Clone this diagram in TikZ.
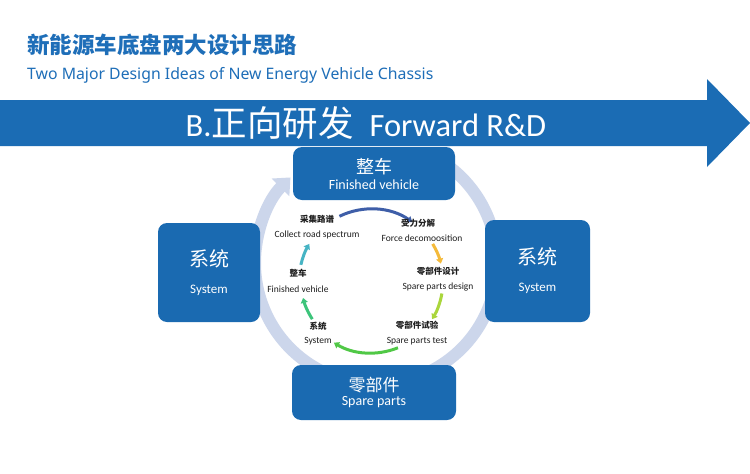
\documentclass[tikz,border=0pt]{standalone}
\usepackage{fontspec}
\setmainfont{Carlito}
\newfontfamily\cjk{Noto Sans CJK SC}
\newfontfamily\subfont{Noto Sans}
\usetikzlibrary{arrows.meta}
\definecolor{mainblue}{RGB}{27,108,180}
\definecolor{boxblue}{RGB}{26,106,177}
\definecolor{titleblue}{RGB}{30,110,184}
\definecolor{ringc}{RGB}{204,214,235}
\definecolor{arcA}{RGB}{62,94,168}
\definecolor{arcB}{RGB}{244,186,58}
\definecolor{arcC}{RGB}{170,214,60}
\definecolor{arcD}{RGB}{80,200,70}
\definecolor{arcE}{RGB}{60,196,122}
\definecolor{arcF}{RGB}{70,180,196}
\definecolor{lbl}{RGB}{30,30,30}
\tikzset{
  bluebox/.style={fill=boxblue, rounded corners=9pt, text=white, align=center, inner sep=0pt},
  ringarrow/.style={draw=ringc, line width=12pt, -{Triangle[width=24pt,length=14pt]}},
  arcline/.style={line width=3pt, -{Triangle[width=7pt,length=5pt]}},
  lblcn/.style={text=lbl, font=\cjk\bfseries\fontsize{8.5}{10}\selectfont, inner sep=0pt},
  lblen/.style={text=lbl, font=\fontsize{9.5}{11}\selectfont, inner sep=0pt}
}
\begin{document}
\begin{tikzpicture}[x=1pt,y=1pt]
\useasboundingbox (0,0) rectangle (750,-474);
\fill[white] (0,0) rectangle (750,-474);
% titles
\node[anchor=west, text=titleblue, font=\cjk\bfseries\fontsize{22.5}{24}\selectfont, inner sep=0pt] (title) at (27,-45) {新能源车底盘两大设计思路};
\node[anchor=base west, text=titleblue, font=\subfont\fontsize{15.8}{17}\selectfont, inner sep=0pt] (subtitle) at (27,-79) {Two Major Design Ideas of New Energy Vehicle Chassis};
% band arrow
\fill[mainblue] (0,-100) -- (707,-100) -- (707,-79) -- (750,-123) -- (707,-167) -- (707,-146) -- (0,-146) -- cycle;
\node[text=white, inner sep=0pt] (band) at (366,-123) {{\fontsize{32.5}{35}\selectfont B.}{\cjk\fontsize{35.5}{38}\selectfont 正向研发}\hspace{16pt}{\fontsize{32.5}{35}\selectfont Forward R\&D}};
% outer ring
\coordinate (oc) at (376,-263);
\draw[ringarrow] (oc) ++(60:121) arc[start angle=60, end angle=-225, radius=121];
% boxes
\node[bluebox, minimum width=162pt, minimum height=53pt] (top) at (374,-173.5) {{\cjk\fontsize{18}{20}\selectfont 整车}\\[4pt]{\fontsize{14}{16}\selectfont Finished vehicle}};
\node[bluebox, minimum width=102pt, minimum height=99pt] (left) at (209,-272.5) {{\cjk\fontsize{20}{22}\selectfont 系统}\\[15pt]{\fontsize{13}{15}\selectfont System}};
\node[bluebox, minimum width=105pt, minimum height=102pt] (right) at (537.5,-271) {{\cjk\fontsize{20}{22}\selectfont 系统}\\[15pt]{\fontsize{13}{15}\selectfont System}};
\node[bluebox, minimum width=164pt, minimum height=55pt] (bottom) at (374,-392.5) {{\cjk\fontsize{17}{19}\selectfont 零部件}\\[2pt]{\fontsize{14}{16}\selectfont Spare parts}};
% inner cycle
\coordinate (ic) at (371,-281);
\draw[arcline, arcA] (ic) ++(116:72) arc[start angle=116, end angle=55, radius=72];
\draw[arcline, arcB] (ic) ++(31:72) arc[start angle=31, end angle=14, radius=72];
\draw[arcline, arcC] (ic) ++(-10:72) arc[start angle=-10, end angle=-32, radius=72];
\draw[arcline, arcD] (ic) ++(-68:72) arc[start angle=-68, end angle=-121, radius=72];
\draw[arcline, arcE] (ic) ++(-147:70) arc[start angle=-147, end angle=-166, radius=70];
\draw[arcline, arcF] (ic) ++(167:72) arc[start angle=167, end angle=149, radius=72];
% labels
\node[lblcn] (l1c) at (317,-219) {采集路谱};
\node[lblen] (l1e) at (317,-234.5) {Collect road spectrum};
\node[lblcn] (l2c) at (418,-223) {受力分解};
\node[lblen] (l2e) at (422,-238.5) {Force decomoosition};
\node[lblcn] (l3c) at (438,-271) {零部件设计};
\node[lblen] (l3e) at (438,-287) {Spare parts design};
\node[lblcn] (l4c) at (417,-325) {零部件试验};
\node[lblen] (l4e) at (417,-341) {Spare parts test};
\node[lblcn] (l5c) at (318,-326) {系统};
\node[lblen] (l5e) at (318,-341) {System};
\node[lblcn] (l6c) at (298,-273) {整车};
\node[lblen] (l6e) at (298,-289) {Finished vehicle};
\end{tikzpicture}
\end{document}
